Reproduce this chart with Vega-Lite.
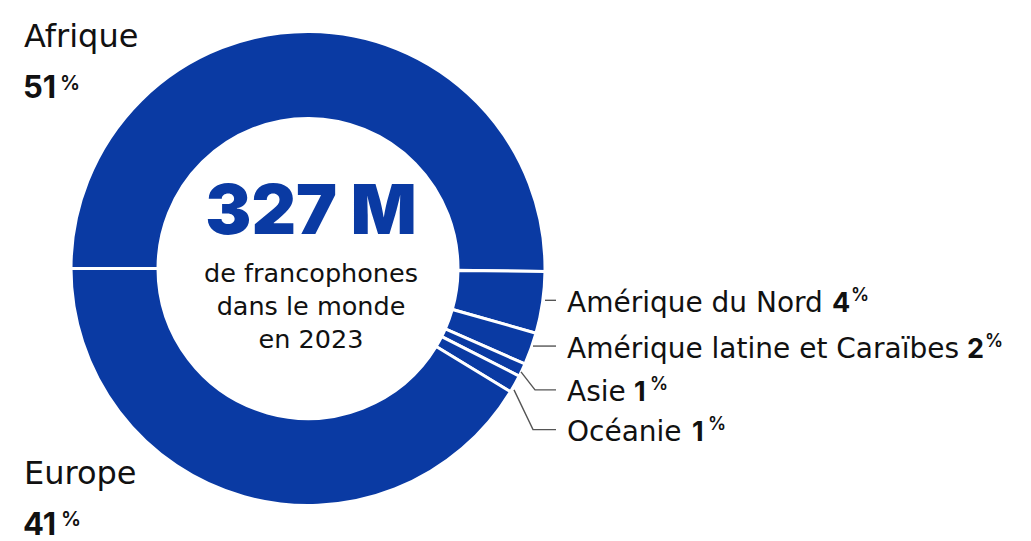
{
  "$schema": "https://vega.github.io/schema/vega-lite/v6.json",
  "width": 1031,
  "height": 541,
  "autosize": {"type": "fit", "contains": "padding"},
  "padding": 0,
  "background": "white",
  "config": {"view": {"stroke": null}, "font": "DejaVu Sans"},
  "datasets": {
    "parts": [
      {"region": "Afrique", "share": 50.2, "ord": 1},
      {"region": "Amérique du Nord", "share": 4.2, "ord": 2},
      {"region": "Amérique latine et Caraïbes", "share": 2.2, "ord": 3},
      {"region": "Asie", "share": 0.9, "ord": 4},
      {"region": "Océanie", "share": 1.2, "ord": 5},
      {"region": "Europe", "share": 41.3, "ord": 6}
    ],
    "labels": [
      {"kind": "big", "text": "Afrique", "px": 24, "py": 47},
      {"kind": "bignum", "text": "51", "px": 23, "py": 99},
      {"kind": "bigpct", "text": "%", "px": 60, "py": 74},
      {"kind": "big", "text": "Europe", "px": 24, "py": 487},
      {"kind": "bignum", "text": "41", "px": 23, "py": 538},
      {"kind": "bigpct", "text": "%", "px": 61, "py": 513},
      {"kind": "total", "text": "327 M", "px": 311, "py": 235},
      {"kind": "sub", "text": "de francophones", "px": 311, "py": 284},
      {"kind": "sub", "text": "dans le monde", "px": 311, "py": 317},
      {"kind": "sub", "text": "en 2023", "px": 311, "py": 350},
      {"kind": "name", "text": "Amérique du Nord", "px": 567, "py": 314},
      {"kind": "num", "text": "4", "px": 832, "py": 314},
      {"kind": "pct", "text": "%", "px": 851, "py": 289},
      {"kind": "name", "text": "Amérique latine et Caraïbes", "px": 567, "py": 360},
      {"kind": "num", "text": "2", "px": 967, "py": 360},
      {"kind": "pct", "text": "%", "px": 985, "py": 335},
      {"kind": "name", "text": "Asie", "px": 567, "py": 403},
      {"kind": "num", "text": "1", "px": 634, "py": 403},
      {"kind": "pct", "text": "%", "px": 650, "py": 378},
      {"kind": "name", "text": "Océanie", "px": 567, "py": 443},
      {"kind": "num", "text": "1", "px": 692, "py": 443},
      {"kind": "pct", "text": "%", "px": 708, "py": 418}
    ],
    "leaders": [
      {"id": "nord", "k": 1, "px": 545, "py": 302},
      {"id": "nord", "k": 2, "px": 556, "py": 302},
      {"id": "latine", "k": 1, "px": 533, "py": 348},
      {"id": "latine", "k": 2, "px": 556, "py": 348},
      {"id": "asie", "k": 1, "px": 521, "py": 374},
      {"id": "asie", "k": 2, "px": 535, "py": 392},
      {"id": "asie", "k": 3, "px": 556, "py": 392},
      {"id": "oceanie", "k": 1, "px": 514, "py": 392},
      {"id": "oceanie", "k": 2, "px": 533, "py": 432},
      {"id": "oceanie", "k": 3, "px": 556, "py": 432}
    ]
  },
  "layer": [
    {
      "data": {"name": "parts"},
      "mark": {"type": "arc", "outerRadius": 237, "innerRadius": 150, "stroke": "white", "strokeWidth": 3, "color": "#0a3aa3"},
      "encoding": {
        "theta": {"field": "share", "type": "quantitative", "stack": true, "scale": {"range": [4.71239, 10.99557]}},
        "order": {"field": "ord", "type": "quantitative"},
        "x": {"datum": 308, "type": "quantitative", "scale": {"domain": [0, 1031], "nice": false, "zero": false}, "axis": null},
        "y": {"datum": 270, "type": "quantitative", "scale": {"domain": [541, 0], "nice": false, "zero": false}, "axis": null}
      }
    },
    {
      "data": {"name": "leaders"},
      "mark": {"type": "line", "color": "#555555", "strokeWidth": 1.4},
      "encoding": {
        "x": {"field": "px", "type": "quantitative"},
        "y": {"field": "py", "type": "quantitative"},
        "detail": {"field": "id"},
        "order": {"field": "k", "type": "quantitative"}
      }
    },
    {
      "data": {"name": "labels"},
      "transform": [{"filter": "datum.kind === 'big'"}],
      "mark": {"type": "text", "align": "left", "baseline": "alphabetic", "fontSize": 32, "color": "#111111"},
      "encoding": {"x": {"field": "px", "type": "quantitative"}, "y": {"field": "py", "type": "quantitative"}, "text": {"field": "text"}}
    },
    {
      "data": {"name": "labels"},
      "transform": [{"filter": "datum.kind === 'bignum'"}],
      "mark": {"type": "text", "align": "left", "baseline": "alphabetic", "fontSize": 31, "fontWeight": 700, "font": "Inter", "color": "#111111"},
      "encoding": {"x": {"field": "px", "type": "quantitative"}, "y": {"field": "py", "type": "quantitative"}, "text": {"field": "text"}}
    },
    {
      "data": {"name": "labels"},
      "transform": [{"filter": "datum.kind === 'bigpct'"}],
      "mark": {"type": "text", "align": "left", "baseline": "top", "fontSize": 20, "fontWeight": 600, "font": "Inter", "color": "#111111"},
      "encoding": {"x": {"field": "px", "type": "quantitative"}, "y": {"field": "py", "type": "quantitative"}, "text": {"field": "text"}}
    },
    {
      "data": {"name": "labels"},
      "transform": [{"filter": "datum.kind === 'total'"}],
      "mark": {"type": "text", "align": "center", "baseline": "alphabetic", "fontSize": 69, "fontWeight": 900, "font": "Inter", "color": "#0a3aa3"},
      "encoding": {"x": {"field": "px", "type": "quantitative"}, "y": {"field": "py", "type": "quantitative"}, "text": {"field": "text"}}
    },
    {
      "data": {"name": "labels"},
      "transform": [{"filter": "datum.kind === 'sub'"}],
      "mark": {"type": "text", "align": "center", "baseline": "alphabetic", "fontSize": 25.5, "color": "#111111"},
      "encoding": {"x": {"field": "px", "type": "quantitative"}, "y": {"field": "py", "type": "quantitative"}, "text": {"field": "text"}}
    },
    {
      "data": {"name": "labels"},
      "transform": [{"filter": "datum.kind === 'name'"}],
      "mark": {"type": "text", "align": "left", "baseline": "alphabetic", "fontSize": 28, "color": "#111111"},
      "encoding": {"x": {"field": "px", "type": "quantitative"}, "y": {"field": "py", "type": "quantitative"}, "text": {"field": "text"}}
    },
    {
      "data": {"name": "labels"},
      "transform": [{"filter": "datum.kind === 'num'"}],
      "mark": {"type": "text", "align": "left", "baseline": "alphabetic", "fontSize": 27, "fontWeight": 700, "font": "Inter", "color": "#111111"},
      "encoding": {"x": {"field": "px", "type": "quantitative"}, "y": {"field": "py", "type": "quantitative"}, "text": {"field": "text"}}
    },
    {
      "data": {"name": "labels"},
      "transform": [{"filter": "datum.kind === 'pct'"}],
      "mark": {"type": "text", "align": "left", "baseline": "top", "fontSize": 18, "fontWeight": 600, "font": "Inter", "color": "#111111"},
      "encoding": {"x": {"field": "px", "type": "quantitative"}, "y": {"field": "py", "type": "quantitative"}, "text": {"field": "text"}}
    }
  ]
}
